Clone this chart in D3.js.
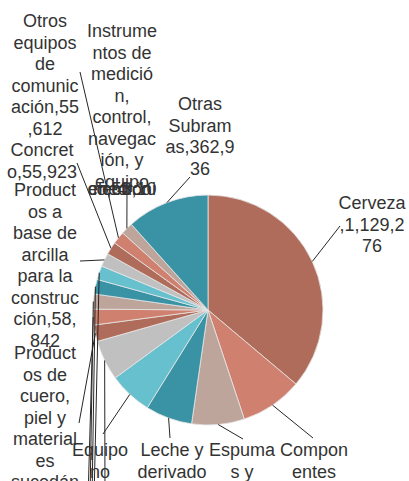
<!DOCTYPE html>
<html>
<head>
<meta charset="utf-8">
<script src="https://cdn.jsdelivr.net/npm/d3@7"></script>
<style>
  body { margin: 0; background: #fff; }
  svg text { font-family: "Liberation Sans", Arial, sans-serif; font-kerning: none; }
</style>
</head>
<body>
<svg></svg>
<script>
// slices, clockwise from 12 o'clock
var categories = [
  "Cerveza",
  "Componentes electrónicos",
  "Espumas y productos de uretano",
  "Leche y derivados",
  "Equipo no electrónico",
  "Cemento y cal",
  "Productos de cuero, piel y materiales sucedáneos",
  "Vidrio y productos de vidrio",
  "Pinturas y recubrimientos",
  "Autopartes",
  "Productos de plástico",
  "Productos a base de arcilla para la construcción",
  "Concreto",
  "Otros equipos de comunicación",
  "Instrumentos de medición, control, navegación, y equipo médico electrónico",
  "Otras Subramas"
];
var values = [1129276, 273415, 231087, 205118, 190532, 176804, 72140, 68930,
              66215, 63870, 61025, 58842, 55923, 55612, 53104, 362936];

var palette = ["#b06c5b", "#d0806f", "#bea59b", "#3a92a5", "#66c0ce", "#c0c0c0"];

// where each label block sits (centre x, first line y) and where its leader ends
var labelLayout = [
  [372, 203, 340, 226],
  [314, 450, 313, 438],
  [242, 450, 243, 439],
  [172, 450, 170, 438],
  [100, 450, 103, 434],
  [105, 512, 105, 500],
  [45, 353, 79, 423],
  [88, 520, 88, 500],
  [90, 540, 90, 500],
  [92, 560, 92, 500],
  [94, 580, 94, 500],
  [45, 190, 80, 261],
  [42, 150, 77, 163],
  [45, 21, 80, 72],
  [122, 31, 127, 190],
  [200, 104, 190, 177]
];

var width = 409, height = 481;
var cx = 208, cy = 310, radius = 115;
var fontSize = 18, lineH = 21.5, wrapW = 71;

var svg = d3.select("svg")
  .attr("width", width)
  .attr("height", height);

svg.append("rect").attr("width", width).attr("height", height).attr("fill", "#fff");

var data = categories.map(function(c, i) { return { name: c, value: values[i] }; });

var pie = d3.pie().sort(null).value(function(d) { return d.value; });
var arcs = pie(data);

var arc = d3.arc().innerRadius(0).outerRadius(radius);

var g = svg.append("g").attr("transform", "translate(" + cx + "," + cy + ")");

g.selectAll("path")
  .data(arcs)
  .enter()
  .append("path")
  .attr("d", arc)
  .attr("fill", function(d, i) { return palette[i % palette.length]; })
  .attr("stroke", "#e6e6e6")
  .attr("stroke-width", 0.8);

// measuring text for the wrap
var probe = svg.append("text").attr("font-size", fontSize).attr("x", -999).attr("y", -999);
function measure(s) {
  probe.text(s);
  return probe.node().getComputedTextLength();
}
function wrap(str, maxW) {
  var words = str.split(" "), lines = [], cur = "";
  words.forEach(function(w) {
    var trial = cur ? cur + " " + w : w;
    if (measure(trial) <= maxW) { cur = trial; return; }
    if (cur) { lines.push(cur); cur = ""; }
    var part = "";
    Array.from(w).forEach(function(ch) {
      if (!part || measure(part + ch) <= maxW) part += ch;
      else { lines.push(part); part = ch; }
    });
    cur = part;
  });
  if (cur) lines.push(cur);
  return lines;
}

var fmt = d3.format(",");
var outer = d3.arc().innerRadius(radius).outerRadius(radius);

// leader lines
var leaders = svg.append("g");
arcs.forEach(function(d, i) {
  var a = (d.startAngle + d.endAngle) / 2;
  var x0 = cx + radius * Math.sin(a);
  var y0 = cy - radius * Math.cos(a);
  var L = labelLayout[i];
  leaders.append("line")
    .attr("x1", x0).attr("y1", y0)
    .attr("x2", L[2]).attr("y2", L[3])
    .attr("stroke", "#262626")
    .attr("stroke-width", 1);
});

// labels
var labels = svg.append("g").attr("fill", "#333").attr("font-size", fontSize);
arcs.forEach(function(d, i) {
  var L = labelLayout[i];
  var lines = wrap(d.data.name + "," + fmt(d.data.value), wrapW);
  var t = labels.append("text").attr("text-anchor", "middle");
  lines.forEach(function(s, k) {
    // lines past the 8th pile up under the block (overflowing label)
    var y = k < 8 ? L[1] + k * lineH : L[1] + 7 * lineH + 7;
    t.append("tspan")
      .attr("x", L[0])
      .attr("y", y)
      .attr("dy", "0.35em")
      .text(s);
  });
});
probe.remove();
</script>
</body>
</html>
